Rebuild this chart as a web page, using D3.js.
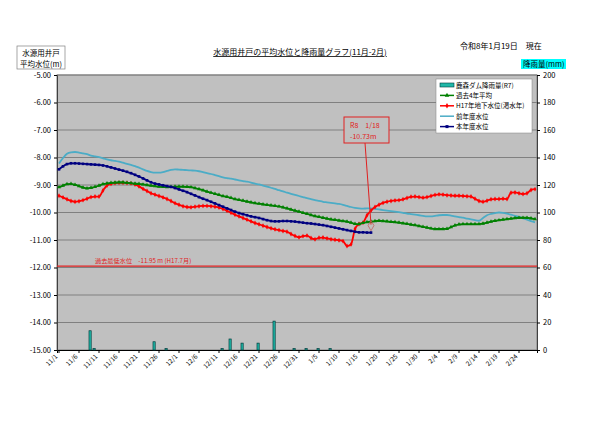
<!DOCTYPE html>
<html>
<head>
<meta charset="utf-8">
<script src="https://cdn.jsdelivr.net/npm/d3@7"></script>
<style>
  body { margin: 0; background: #fff; }
  text { font-family: "Noto Sans CJK JP", "Noto Sans", sans-serif; }
</style>
</head>
<body>
<svg id="chart"></svg>
<script>
var screen = {width: 600, height: 423}
var margins = {top: 75, right: 63, bottom: 73, left: 57}

// days 11/1 .. 2/28
var days = d3.timeDay.range(new Date(2025, 10, 1), new Date(2026, 2, 1))
var tickLabels = ["11/1","11/6","11/11","11/16","11/21","11/26","12/1","12/6","12/11","12/16","12/21","12/26",
                  "12/31","1/5","1/10","1/15","1/20","1/25","1/30","2/4","2/9","2/14","2/19","2/24"]

// 前年度水位
var prevYear = [-8.22,-8.02,-7.86,-7.81,-7.80,-7.82,-7.85,-7.88,-7.93,-7.96,-7.99,-8.03,-8.07,-8.10,-8.12,-8.15,-8.19,-8.23,-8.27,-8.31,
  -8.37,-8.43,-8.49,-8.53,-8.55,-8.55,-8.53,-8.49,-8.45,-8.43,-8.44,-8.45,-8.46,-8.47,-8.48,-8.50,-8.53,-8.57,-8.60,-8.64,
  -8.68,-8.72,-8.75,-8.77,-8.80,-8.83,-8.86,-8.88,-8.91,-8.95,-8.98,-9.02,-9.06,-9.10,-9.14,-9.19,-9.23,-9.28,-9.32,-9.36,
  -9.40,-9.44,-9.48,-9.51,-9.55,-9.58,-9.61,-9.63,-9.65,-9.67,-9.69,-9.72,-9.76,-9.80,-9.83,-9.85,-9.86,-9.85,-9.85,-9.87,
  -9.89,-9.91,-9.93,-9.95,-9.97,-9.99,-10.01,-10.04,-10.06,-10.08,-10.10,-10.12,-10.14,-10.14,-10.12,-10.10,-10.09,-10.09,-10.11,-10.14,
  -10.17,-10.19,-10.22,-10.25,-10.28,-10.30,-10.20,-10.10,-10.05,-10.02,-10.00,-10.01,-10.04,-10.08,-10.12,-10.16,-10.21,-10.26,-10.31,-10.36]

// 本年度水位 (to 1/18)
var thisYear = [-8.43,-8.32,-8.24,-8.21,-8.21,-8.22,-8.23,-8.24,-8.25,-8.26,-8.27,-8.29,-8.32,-8.36,-8.40,-8.44,-8.48,-8.52,-8.57,-8.63,
  -8.69,-8.76,-8.83,-8.90,-8.95,-8.98,-9.01,-9.04,-9.07,-9.11,-9.16,-9.21,-9.26,-9.32,-9.38,-9.44,-9.50,-9.55,-9.61,-9.67,
  -9.73,-9.79,-9.85,-9.91,-9.97,-10.02,-10.06,-10.10,-10.14,-10.17,-10.20,-10.24,-10.28,-10.31,-10.32,-10.32,-10.31,-10.31,-10.32,-10.33,
  -10.35,-10.37,-10.39,-10.40,-10.42,-10.44,-10.46,-10.49,-10.52,-10.55,-10.58,-10.61,-10.64,-10.67,-10.70,-10.72,-10.72,-10.73,-10.73]

// 過去4年平均
var avg4 = [-9.08,-9.02,-8.97,-8.96,-8.99,-9.04,-9.09,-9.12,-9.10,-9.07,-9.02,-8.97,-8.94,-8.92,-8.91,-8.90,-8.90,-8.92,-8.93,-8.95,
  -8.96,-8.98,-9.00,-9.02,-9.04,-9.06,-9.07,-9.08,-9.07,-9.06,-9.06,-9.06,-9.07,-9.08,-9.11,-9.15,-9.19,-9.24,-9.28,-9.32,
  -9.36,-9.40,-9.43,-9.47,-9.51,-9.54,-9.57,-9.60,-9.63,-9.66,-9.68,-9.70,-9.72,-9.74,-9.76,-9.78,-9.81,-9.85,-9.89,-9.93,
  -9.97,-10.01,-10.05,-10.09,-10.13,-10.16,-10.19,-10.22,-10.25,-10.27,-10.29,-10.31,-10.33,-10.37,-10.41,-10.42,-10.38,-10.35,-10.33,-10.31,
  -10.30,-10.31,-10.32,-10.34,-10.35,-10.37,-10.39,-10.41,-10.44,-10.46,-10.49,-10.52,-10.55,-10.58,-10.60,-10.60,-10.60,-10.59,-10.53,-10.47,
  -10.43,-10.42,-10.42,-10.42,-10.42,-10.42,-10.40,-10.37,-10.33,-10.30,-10.28,-10.26,-10.24,-10.22,-10.20,-10.19,-10.19,-10.19,-10.21,-10.24]

// H17年地下水位(渇水年)
var h17 = [-9.39,-9.45,-9.52,-9.58,-9.61,-9.59,-9.55,-9.50,-9.44,-9.42,-9.42,-9.20,-9.02,-8.96,-8.93,-8.92,-8.92,-8.93,-8.94,-8.98,
  -9.05,-9.14,-9.22,-9.30,-9.35,-9.40,-9.45,-9.51,-9.58,-9.66,-9.72,-9.77,-9.80,-9.81,-9.79,-9.77,-9.76,-9.76,-9.77,-9.79,
  -9.82,-9.87,-9.94,-10.01,-10.08,-10.14,-10.20,-10.26,-10.32,-10.38,-10.43,-10.48,-10.53,-10.57,-10.61,-10.64,-10.67,-10.70,-10.78,-10.85,
  -10.90,-10.86,-10.84,-10.93,-10.97,-10.92,-10.91,-10.94,-10.97,-10.99,-11.01,-11.04,-11.22,-11.16,-10.60,-10.42,-10.37,-10.10,-9.93,-9.80,
  -9.72,-9.65,-9.61,-9.58,-9.56,-9.55,-9.52,-9.47,-9.43,-9.42,-9.44,-9.46,-9.44,-9.40,-9.36,-9.34,-9.35,-9.37,-9.38,-9.39,
  -9.39,-9.40,-9.41,-9.42,-9.50,-9.58,-9.61,-9.57,-9.52,-9.51,-9.51,-9.50,-9.51,-9.28,-9.27,-9.30,-9.33,-9.30,-9.18,-9.15]

// 鹿森ダム降雨量(R7)
var rainDays = [8, 9, 24, 27, 41, 43, 46, 50, 54, 59, 62, 65, 68]
var rainMM   = [14, 1, 6, 1, 1, 8, 5, 5, 21, 1, 1, 1, 1]

var lowest = -11.95

var svg = d3.select("#chart").attr("width", screen.width).attr("height", screen.height)

var width = screen.width - margins.left - margins.right
var height = screen.height - margins.top - margins.bottom

var fmt = function(d){ return (d.getMonth() + 1) + "/" + d.getDate() }

var xScale = d3.scaleBand().domain(d3.range(days.length)).range([margins.left, margins.left + width]).paddingInner(0)
var cx = function(i){ return xScale(i) + xScale.bandwidth() / 2 }
var yScale = d3.scaleLinear().domain([-15, -5]).range([margins.top + height, margins.top])
var rScale = d3.scaleLinear().domain([0, 200]).range([margins.top + height, margins.top])

// plot background
svg.append("rect")
    .attr("x", margins.left).attr("y", margins.top)
    .attr("width", width).attr("height", height)
    .attr("fill", "#c0c0c0")

// grid
svg.append("g")
    .selectAll("line")
    .data(d3.range(-14, -4))
    .enter()
    .append("line")
    .attr("x1", margins.left).attr("x2", margins.left + width)
    .attr("y1", function(d){ return yScale(d) }).attr("y2", function(d){ return yScale(d) })
    .attr("stroke", "#808080").attr("stroke-width", 1)

svg.append("rect")
    .attr("x", margins.left).attr("y", margins.top)
    .attr("width", width).attr("height", height)
    .attr("fill", "none").attr("stroke", "#808080")

// axes
var yAxis = d3.axisLeft(yScale).tickValues(d3.range(-15, -4)).tickFormat(d3.format(".2f")).tickSize(3)
svg.append("g").attr("transform", "translate(" + margins.left + ",0)").call(yAxis)
    .call(function(g){
        g.select(".domain").attr("stroke", "#404040")
        g.selectAll("text").attr("font-size", 7.5).attr("fill", "#000").attr("x", -6)
            .text(function(d){ return d3.format(".2f")(d).replace("−", "-") })
    })

var rAxis = d3.axisRight(rScale).tickValues(d3.range(0, 201, 20)).tickSize(3)
svg.append("g").attr("transform", "translate(" + (margins.left + width) + ",0)").call(rAxis)
    .call(function(g){
        g.select(".domain").attr("stroke", "#404040")
        g.selectAll("text").attr("font-size", 7.5).attr("fill", "#000").attr("x", 6)
    })

var tickIdx = d3.range(0, days.length, 5).filter(function(i){ return tickLabels.indexOf(fmt(days[i])) >= 0 })
var xAxis = d3.axisBottom(xScale).tickValues(tickIdx).tickSize(3).tickFormat(function(i){ return fmt(days[i]) })
svg.append("g").attr("transform", "translate(0," + (margins.top + height) + ")").call(xAxis)
    .call(function(g){
        g.select(".domain").attr("stroke", "#000")
        g.selectAll("text")
            .attr("font-size", 6.5).attr("fill", "#000")
            .attr("text-anchor", "end")
            .attr("dy", 0).attr("y", 0)
            .attr("transform", "translate(-1,7) rotate(-45)")
    })

// rain bars
svg.append("g")
    .selectAll("rect")
    .data(rainDays)
    .enter()
    .append("rect")
    .attr("x", function(d){ return cx(d) - 2 })
    .attr("y", function(d, i){ return rScale(rainMM[i]) })
    .attr("width", 2.2)
    .attr("height", function(d, i){ return rScale(0) - rScale(rainMM[i]) })
    .attr("fill", "#20b8a8").attr("stroke", "#003c3c").attr("stroke-width", 0.7)

// lowest level line
svg.append("line")
    .attr("x1", margins.left).attr("x2", margins.left + width)
    .attr("y1", yScale(lowest)).attr("y2", yScale(lowest))
    .attr("stroke", "#e02020").attr("stroke-width", 1.2)
svg.append("text").attr("x", 95).attr("y", yScale(lowest) - 3)
    .attr("font-size", 6.2).attr("fill", "#e02020")
    .text("過去最低水位　-11.95 m (H17.7月)")

var line = d3.line().x(function(d, i){ return cx(i) }).y(function(d){ return yScale(d) }).curve(d3.curveMonotoneX)

var series = [
    {name: "前年度水位", data: prevYear, color: "#4bacc6", symbol: null},
    {name: "H17年地下水位(渇水年)", data: h17, color: "#ff0000", symbol: d3.symbolDiamond},
    {name: "過去4年平均", data: avg4, color: "#008000", symbol: d3.symbolTriangle},
    {name: "本年度水位", data: thisYear, color: "#000080", symbol: d3.symbolSquare}
]

series.forEach(function(s){
    svg.append("path").datum(s.data)
        .attr("d", line)
        .attr("fill", "none").attr("stroke", s.color).attr("stroke-width", 1.8)
    if (s.symbol) {
        svg.append("g").selectAll("path")
            .data(s.data)
            .enter()
            .append("path")
            .attr("d", d3.symbol().type(s.symbol).size(7))
            .attr("transform", function(d, i){ return "translate(" + cx(i) + "," + yScale(d) + ")" })
            .attr("fill", s.color)
    }
})

// annotation for latest value
var lastI = thisYear.length - 1
var lastV = thisYear[lastI]
svg.append("line")
    .attr("x1", 365).attr("y1", 143)
    .attr("x2", cx(lastI)).attr("y2", yScale(lastV) - 8)
    .attr("stroke", "#e02020").attr("stroke-width", 1)
svg.append("path")
    .attr("d", d3.symbol().type(d3.symbolDiamond).size(30))
    .attr("transform", "translate(" + cx(lastI) + "," + (yScale(lastV) - 7) + ")")
    .attr("fill", "none").attr("stroke", "#c06060").attr("stroke-width", 0.8)
svg.append("rect").attr("x", 344).attr("y", 117).attr("width", 45).attr("height", 26)
    .attr("fill", "#c0c0c0").attr("stroke", "#e02020").attr("stroke-width", 1)
svg.append("text").attr("x", 350).attr("y", 128).attr("font-size", 7).attr("fill", "#e02020")
    .text("R8　" + fmt(days[lastI]))
svg.append("text").attr("x", 350).attr("y", 139).attr("font-size", 7).attr("fill", "#e02020")
    .text(lastV.toFixed(2) + "m")

// legend
var legend = svg.append("g")
legend.append("rect").attr("x", 436).attr("y", 79).attr("width", 96).attr("height", 54)
    .attr("fill", "#fff").attr("stroke", "#808080").attr("stroke-width", 0.5)
var legendItems = [
    {name: "鹿森ダム降雨量(R7)", color: "#20b8a8", bar: true},
    series[2], series[1], series[0], series[3]
]
legendItems.forEach(function(s, k){
    var ly = 85 + k * 10.4
    if (s.bar) {
        legend.append("rect").attr("x", 440).attr("y", ly - 2).attr("width", 14).attr("height", 4)
            .attr("fill", s.color).attr("stroke", "#003c3c").attr("stroke-width", 0.6)
    } else {
        legend.append("line").attr("x1", 440).attr("x2", 454).attr("y1", ly).attr("y2", ly)
            .attr("stroke", s.color).attr("stroke-width", 1.5)
        if (s.symbol) {
            legend.append("path").attr("d", d3.symbol().type(s.symbol).size(9))
                .attr("transform", "translate(447," + ly + ")").attr("fill", s.color)
        }
    }
    legend.append("text").attr("x", 456).attr("y", ly + 2.5).attr("font-size", 6.5).attr("fill", "#000")
        .text(s.name)
})

// titles
svg.append("text").attr("x", 300).attr("y", 55).attr("text-anchor", "middle")
    .attr("font-size", 8).attr("text-decoration", "underline")
    .text("水源用井戸の平均水位と降雨量グラフ(11月-2月)")
svg.append("text").attr("x", 460).attr("y", 49).attr("font-size", 8)
    .text("令和8年1月19日　現在")
svg.append("rect").attr("x", 521).attr("y", 59).attr("width", 45).attr("height", 10).attr("fill", "#00ffff")
svg.append("text").attr("x", 523).attr("y", 67).attr("font-size", 7.5).text("降雨量(mm)")
svg.append("rect").attr("x", 17).attr("y", 46).attr("width", 48).attr("height", 23)
    .attr("fill", "#fff").attr("stroke", "#808080").attr("stroke-width", 0.7)
svg.append("text").attr("x", 41).attr("y", 56).attr("text-anchor", "middle").attr("font-size", 7.5).text("水源用井戸")
svg.append("text").attr("x", 41).attr("y", 66.5).attr("text-anchor", "middle").attr("font-size", 7.5).text("平均水位(m)")
</script>
</body>
</html>
